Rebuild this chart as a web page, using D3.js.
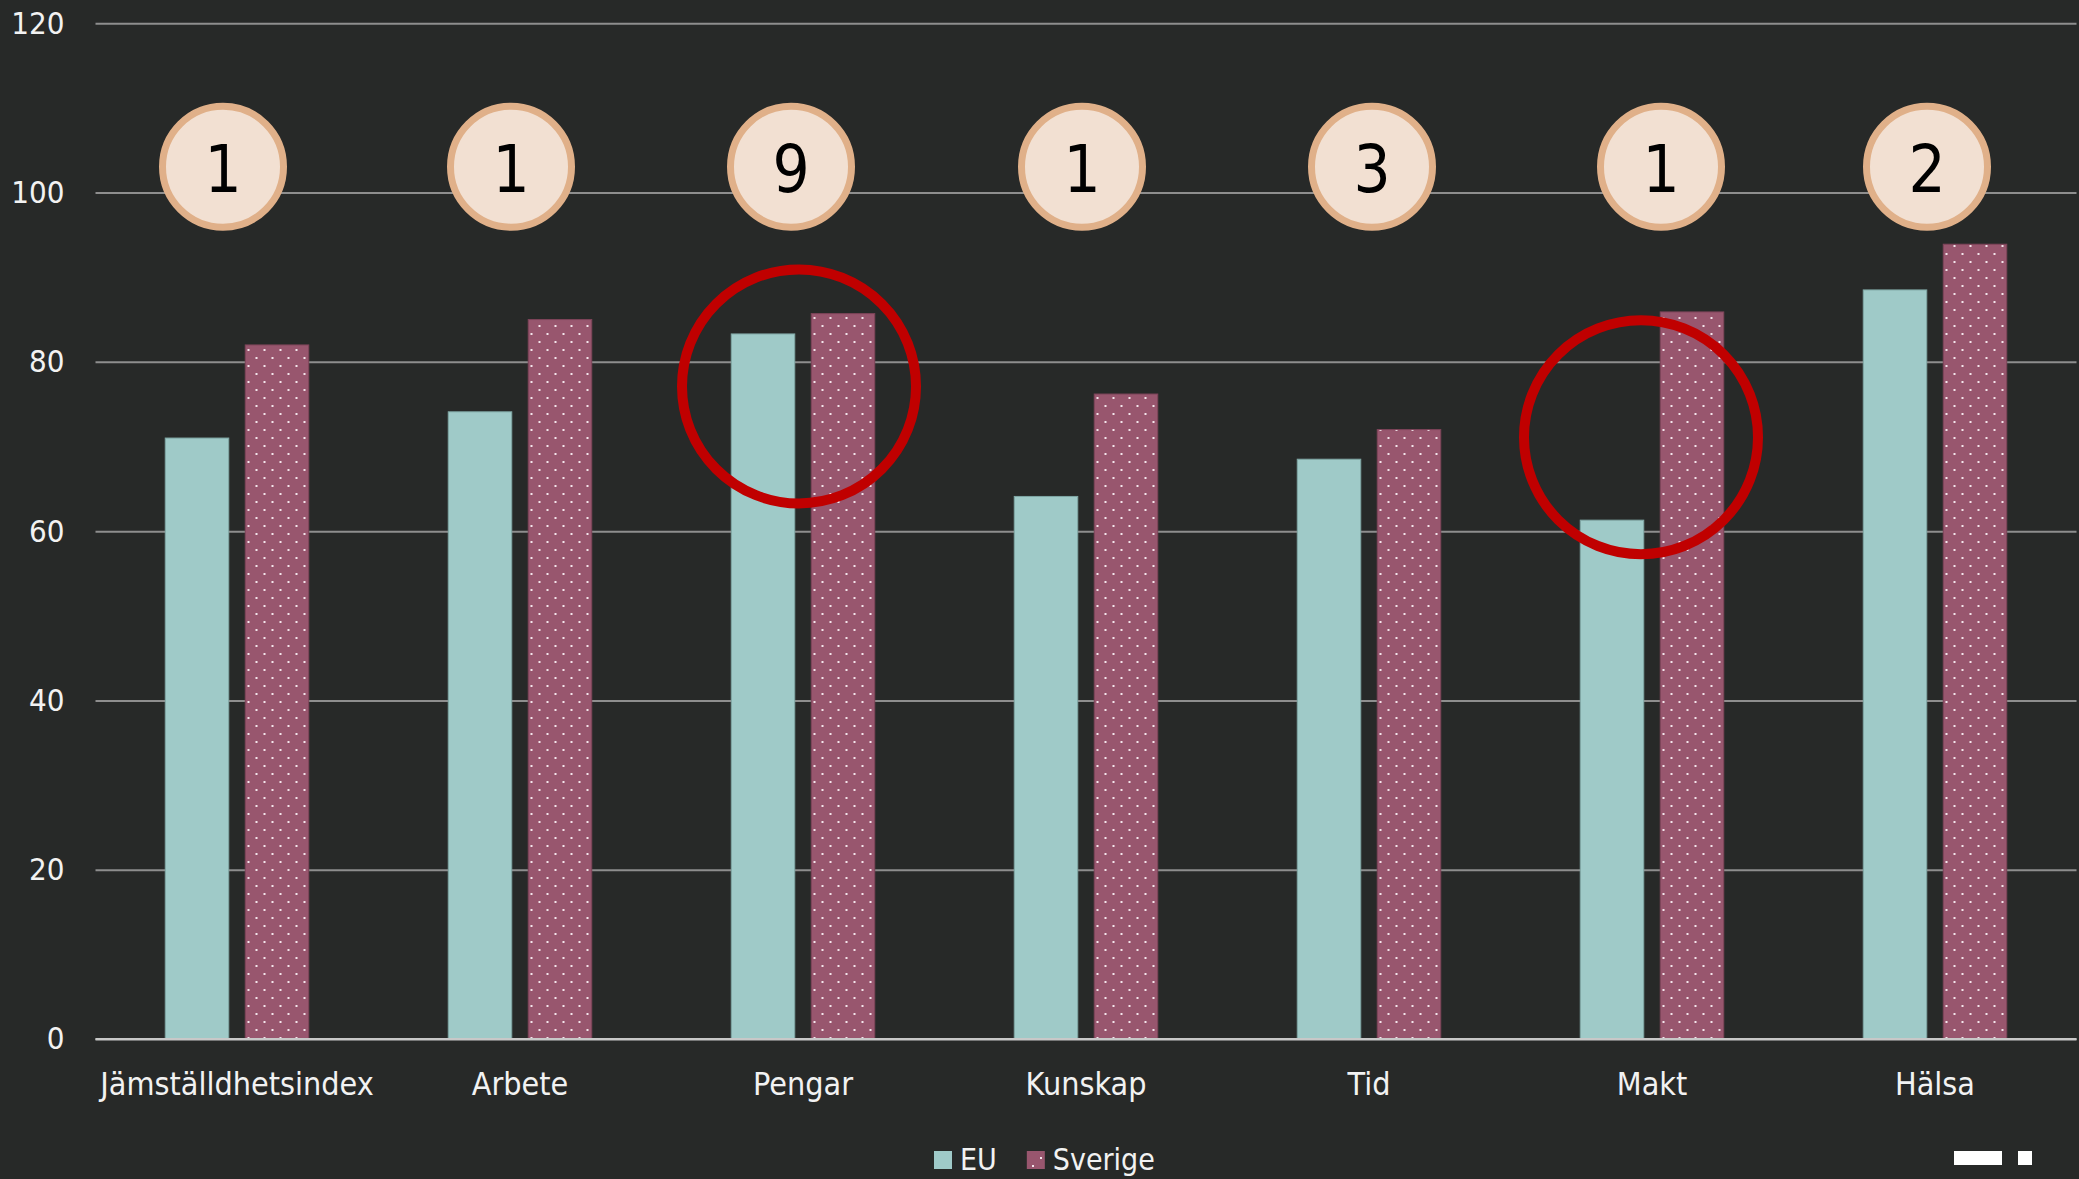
<!DOCTYPE html>
<html>
<head>
<meta charset="utf-8">
<script src="https://cdn.jsdelivr.net/npm/d3@7"></script>
<style>
  html, body { margin: 0; padding: 0; background: #272928; }
  svg { display: block; }
  text { font-family: "DejaVu Sans Condensed", "DejaVu Sans", sans-serif; font-stretch: condensed; }
</style>
</head>
<body>
<svg id="chart" width="2079" height="1179"></svg>
<script>
// ---- data ----
const categories = ["Jämställdhetsindex", "Arbete", "Pengar", "Kunskap", "Tid", "Makt", "Hälsa"];
const seriesNames = ["EU", "Sverige"];
const euValues = [71.0, 74.1, 83.3, 64.1, 68.5, 61.3, 88.5];
const sverigeValues = [82.0, 85.0, 85.7, 76.2, 72.0, 85.9, 93.9];
const rankLabels = ["1", "1", "9", "1", "3", "1", "2"];
const yTicks = [0, 20, 40, 60, 80, 100, 120];
const highlightCats = ["Pengar", "Makt"];
const highlightValues = [77.1, 71.1];

// ---- layout / style ----
const W = 2079, H = 1179;
const plot = { left: 95.5, right: 2076.5, top: 23.3, bottom: 1039 };
const colors = { EU: "#9fcac8", Sverige: "#98566e" };
const strokeColors = { EU: "#7fa6a4", Sverige: "#7e4459" };
const badgeY = 103;            // value level of badge centres
const badgeNudge = [-14, -9, -12, -4, 3, 9, -8];   // px nudges of manually placed badges
const highlightNudge = [-4, -11];

const svg = d3.select("#chart");
svg.append("rect").attr("width", W).attr("height", H).attr("fill", "#272928");

const defs = svg.append("defs");
const pat = defs.append("pattern")
  .attr("id", "dots").attr("patternUnits", "userSpaceOnUse")
  .attr("width", 16).attr("height", 16).attr("x", 0).attr("y", 5);
pat.append("rect").attr("width", 16).attr("height", 16).attr("fill", colors.Sverige);
pat.append("rect").attr("x", 0).attr("y", 0).attr("width", 2).attr("height", 2).attr("fill", "#f4e6ec");
pat.append("rect").attr("x", 8).attr("y", 8).attr("width", 2).attr("height", 2).attr("fill", "#f4e6ec");

const x = d3.scaleBand().domain(categories).range([plot.left, plot.right]).padding(0);
const bw = x.bandwidth();
const xs = d3.scaleBand().domain(seriesNames)
  .range([bw / 2 - 71.75, bw / 2 + 71.75]).paddingInner(0.206).paddingOuter(0);
const y = d3.scaleLinear().domain([0, 120]).range([plot.bottom, plot.top]);

// gridlines
const yAxis = d3.axisLeft(y).tickValues(yTicks).tickSize(-(plot.right - plot.left)).tickPadding(31).tickFormat(d3.format("d"));
const gAxis = svg.append("g").attr("transform", `translate(${plot.left},0)`).call(yAxis);
gAxis.select(".domain").remove();
gAxis.selectAll(".tick line").attr("stroke", d => d === 0 ? "#c8c8c8" : "#8e8e8e").attr("stroke-width", 2);
gAxis.selectAll(".tick text").attr("fill", "#f2f2f2").attr("font-size", 31)
  .attr("font-family", "'DejaVu Sans Condensed', 'DejaVu Sans', sans-serif");

// bars
const rows = categories.map((c, i) => ({ cat: c, EU: euValues[i], Sverige: sverigeValues[i] }));
const groups = svg.append("g").selectAll("g").data(rows).join("g")
  .attr("transform", d => `translate(${x(d.cat)},0)`);
groups.selectAll("rect").data(d => seriesNames.map(s => ({ s, v: d[s] }))).join("rect")
  .attr("x", d => xs(d.s))
  .attr("width", xs.bandwidth())
  .attr("y", d => y(d.v))
  .attr("height", d => y(0) - y(d.v))
  .attr("fill", d => d.s === "EU" ? colors.EU : "url(#dots)")
  .attr("stroke", d => strokeColors[d.s]).attr("stroke-width", 1);

// redraw zero line over bars
svg.append("line").attr("x1", plot.left).attr("x2", plot.right)
  .attr("y1", y(0)).attr("y2", y(0)).attr("stroke", "#c8c8c8").attr("stroke-width", 2);

// category labels
const xAxis = d3.axisBottom(x).tickSize(0).tickPadding(0);
const gx = svg.append("g").attr("transform", `translate(0,${y(0)})`).call(xAxis);
gx.select(".domain").remove();
gx.selectAll(".tick text").attr("fill", "#f2f2f2").attr("font-size", 32).attr("dy", null)
  .attr("y", 56).attr("font-family", "'DejaVu Sans Condensed', 'DejaVu Sans', sans-serif");

// badges
const badges = svg.append("g").selectAll("g").data(categories).join("g")
  .attr("transform", (c, i) => `translate(${x(c) + bw / 2 + badgeNudge[i]},${y(badgeY) - 0.5})`);
badges.append("circle").attr("r", 60.5).attr("fill", "#f2e0d2").attr("stroke", "#e0b089").attr("stroke-width", 7);
badges.append("text").text((c, i) => rankLabels[i])
  .attr("text-anchor", "middle").attr("y", 25.5).attr("font-size", 65).attr("fill", "#000");

// highlight rings
svg.append("g").selectAll("circle").data(highlightCats).join("circle")
  .attr("cx", (c, i) => x(c) + bw / 2 + highlightNudge[i])
  .attr("cy", (c, i) => y(highlightValues[i]))
  .attr("r", 117).attr("fill", "none").attr("stroke", "#c00000").attr("stroke-width", 10);

// legend
const leg = svg.append("g");
let lx = 934;
seriesNames.forEach((s, i) => {
  leg.append("rect").attr("x", lx).attr("y", 1151).attr("width", 18).attr("height", 18)
    .attr("fill", s === "EU" ? colors.EU : "url(#dots)");
  const t = leg.append("text").attr("x", lx + 26).attr("y", 1170).attr("font-size", 30)
    .attr("fill", "#f2f2f2").text(s);
  lx = lx + 26 + t.node().getComputedTextLength() + 30;
});

// small white marks at bottom-right
svg.append("rect").attr("x", W - 125).attr("y", 1151).attr("width", 48).attr("height", 14).attr("fill", "#ffffff");
svg.append("rect").attr("x", W - 61).attr("y", 1151).attr("width", 14).attr("height", 14).attr("fill", "#ffffff");
</script>
</body>
</html>
